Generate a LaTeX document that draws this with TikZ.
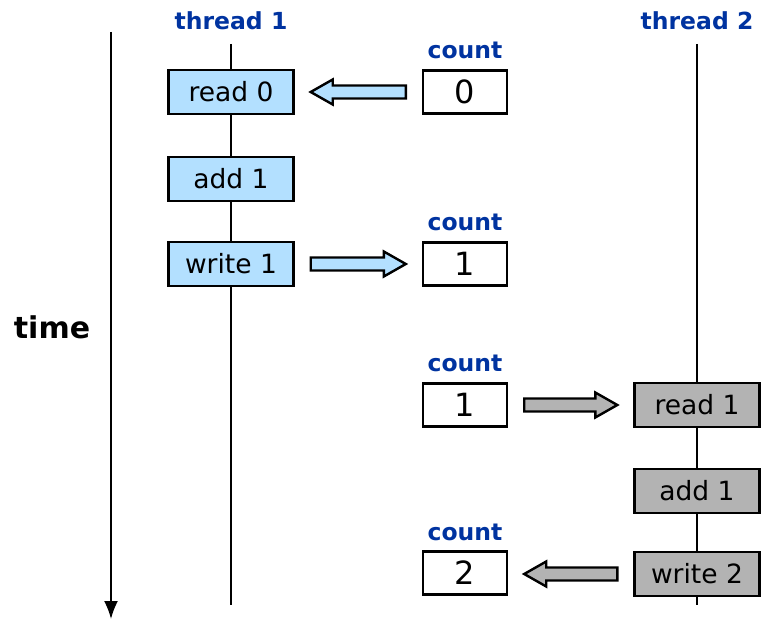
\documentclass[tikz,border=0pt]{standalone}
\usepackage{fontspec}
\setmainfont{DejaVu Sans}
\usetikzlibrary{calc,arrows.meta}
\definecolor{tblue}{HTML}{0033A0}
\definecolor{lblue}{HTML}{B3E0FF}
\definecolor{lgray}{HTML}{B3B3B3}
\newcommand\blockarr[3]{%
  \draw[#3] let \p1=#1, \p2=#2, \n1={ifthenelse(\x2>\x1,1,-1)} in
    (\x1,\y1+6.5pt) -- (\x2-\n1*22pt,\y1+6.5pt) -- (\x2-\n1*22pt,\y1+12.5pt) -- (\x2,\y1)
    -- (\x2-\n1*22pt,\y1-12.5pt) -- (\x2-\n1*22pt,\y1-6.5pt) -- (\x1,\y1-6.5pt) -- cycle;}
\begin{document}
\begin{tikzpicture}[x=1pt,y=-1pt,
  lbl/.style={font=\fontsize{23.5}{26}\selectfont\bfseries, text=tblue},
  opbox/.style={draw=black, line width=2.4pt, minimum width=125pt, minimum height=44pt, inner sep=0pt, font=\fontsize{26.5}{30}\selectfont},
  op1/.style={opbox, fill=lblue},
  op2/.style={opbox, fill=lgray},
  cbox/.style={draw=black, line width=2.4pt, fill=white, minimum width=84pt, minimum height=43pt, inner sep=0pt, font=\fontsize{32}{34}\selectfont},
  thr/.style={line width=1.8pt},
  barr1/.style={draw=black, line width=2.4pt, fill=lblue, line join=miter},
  barr2/.style={draw=black, line width=2.4pt, fill=lgray, line join=miter}]
\useasboundingbox (0,0) rectangle (763,620);
% time axis
\coordinate (ttop) at (111,32);
\coordinate (tbot) at (111,619);
\draw[line width=1.8pt, -{Latex[length=18pt,width=14pt]}] (ttop) -- (tbot);
\node[font=\fontsize{30}{34}\selectfont\bfseries] (time) at (52,327) {time};
% thread lines
\coordinate (a1) at (231,44); \coordinate (a2) at (231,605);
\coordinate (b1) at (697,44); \coordinate (b2) at (697,605);
\draw[thr] (a1) -- (a2);
\draw[thr] (b1) -- (b2);
\node[lbl] (th1) at (231,21) {thread 1};
\node[lbl] (th2) at (697,21) {thread 2};
% thread 1 ops
\node[op1] (r0) at (231,92) {read 0};
\node[op1] (ad1) at (231,179) {add 1};
\node[op1] (w1) at (231,264) {write 1};
% thread 2 ops
\node[op2] (r1) at (697,405) {read 1};
\node[op2] (ad2) at (697,491) {add 1};
\node[op2] (w2) at (697,574) {write 2};
% counts
\node[cbox] (c0) at (465,92) {0};
\node[lbl] (l0) at (465,50) {count};
\node[cbox] (c1) at (465,264) {1};
\node[lbl] (l1) at (465,222) {count};
\node[cbox] (c2) at (465,405) {1};
\node[lbl] (l2) at (465,363) {count};
\node[cbox] (c3) at (465,573) {2};
\node[lbl] (l3) at (465,532) {count};
% block arrows
\blockarr{($(c0.west)+(-16,0)$)}{($(r0.east)+(16,0)$)}{barr1}
\blockarr{($(w1.east)+(16,0)$)}{($(c1.west)+(-16,0)$)}{barr1}
\blockarr{($(c2.east)+(16,0)$)}{($(r1.west)+(-16,0)$)}{barr2}
\blockarr{($(w2.west)+(-16,0)$)}{($(c3.east)+(16,0)$)}{barr2}
\end{tikzpicture}
\end{document}
